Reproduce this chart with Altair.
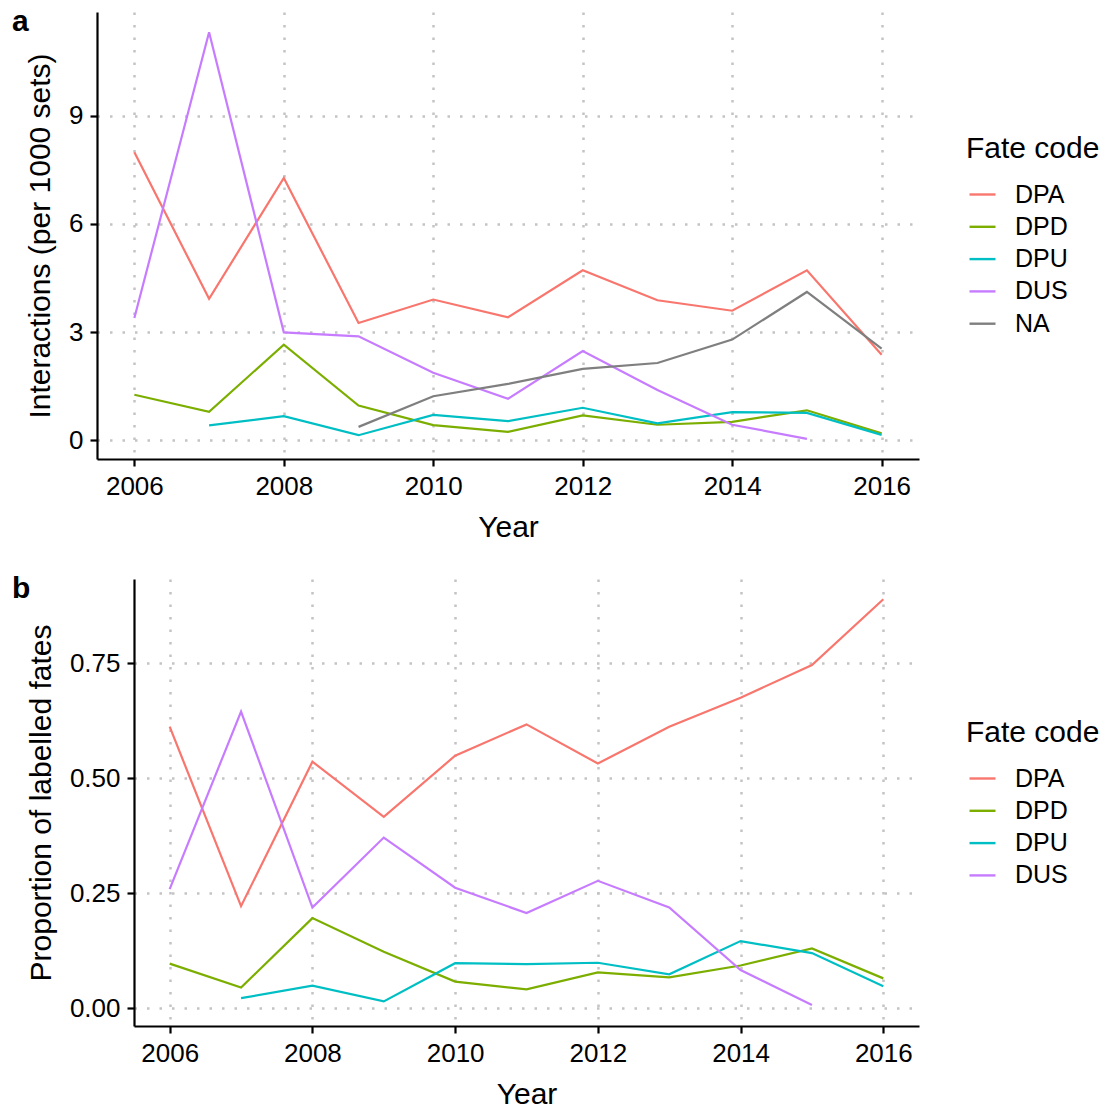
import altair as alt
import pandas as pd

# ---- data -------------------------------------------------------------
years = [2006, 2007, 2008, 2009, 2010, 2011, 2012, 2013, 2014, 2015, 2016]

# Panel a: interactions per 1000 sets
rate_dpa = [7.98, 3.92, 7.27, 3.25, 3.90, 3.41, 4.71, 3.88, 3.59, 4.71, 2.37]
rate_dpd = [1.26, 0.79, 2.65, 0.96, 0.42, 0.23, 0.69, 0.43, 0.51, 0.83, 0.19]
rate_dpu = [None, 0.41, 0.67, 0.14, 0.70, 0.53, 0.90, 0.47, 0.78, 0.76, 0.15]
rate_dus = [3.39, 11.31, 2.99, 2.88, 1.87, 1.15, 2.47, 1.39, 0.43, 0.04, None]
rate_na = [None, None, None, 0.37, 1.22, 1.56, 1.98, 2.14, 2.79, 4.11, 2.54]

# Panel b: proportion of labelled fates
prop_dpa = [0.612, 0.222, 0.536, 0.416, 0.549, 0.617, 0.532, 0.612, 0.675, 0.746, 0.889]
prop_dpd = [0.097, 0.045, 0.196, 0.123, 0.058, 0.041, 0.078, 0.067, 0.093, 0.130, 0.065]
prop_dpu = [None, 0.022, 0.049, 0.015, 0.098, 0.096, 0.099, 0.074, 0.146, 0.120, 0.048]
prop_dus = [0.259, 0.645, 0.219, 0.371, 0.262, 0.207, 0.277, 0.219, 0.083, 0.007, None]

codes_a = ["DPA", "DPD", "DPU", "DUS", "NA"]
colors_a = ["#F8766D", "#7CAE00", "#00BFC4", "#C77CFF", "#7F7F7F"]
codes_b = ["DPA", "DPD", "DPU", "DUS"]
colors_b = ["#F8766D", "#7CAE00", "#00BFC4", "#C77CFF"]

x_ticks = [2006, 2008, 2010, 2012, 2014, 2016]
y_ticks_a = [0, 3, 6, 9]
y_ticks_b = [0, 0.25, 0.5, 0.75]


def long_table(codes, series):
    rows = []
    for code, vals in zip(codes, series):
        for yr, v in zip(years, vals):
            if v is not None:
                rows.append({"Year": yr, "code": code, "value": v})
    return pd.DataFrame(rows)


df_a = long_table(codes_a, [rate_dpa, rate_dpd, rate_dpu, rate_dus, rate_na])
df_b = long_table(codes_b, [prop_dpa, prop_dpd, prop_dpu, prop_dus])

FONT = "Liberation Sans"
GRID = dict(grid=True, gridColor="#C4C4C4", gridDash=[2.5, 10], gridWidth=2.5)
PANEL_W = 822


def panel(df, codes, colors, ytitle, ydomain, yticks, yfmt, inset,
          letter, legend_y):
    # `inset` shifts the panel's left axis inward so that a panel with
    # wider tick labels keeps its y axis to the right of the other one.
    lines = alt.Chart(df).mark_line(strokeWidth=2.2).encode(
        x=alt.X(
            "Year:Q",
            scale=alt.Scale(domain=[2005.5, 2016.5], nice=False, zero=False,
                            range=[inset, PANEL_W]),
            axis=alt.Axis(values=x_ticks, format="d", title="Year", **GRID),
        ),
        y=alt.Y(
            "value:Q",
            scale=alt.Scale(domain=ydomain, nice=False, zero=False),
            axis=alt.Axis(values=yticks, format=yfmt, title=ytitle,
                          offset=-inset, **GRID),
        ),
        color=alt.Color(
            "code:N",
            scale=alt.Scale(domain=codes, range=colors),
            legend=alt.Legend(
                title="Fate code",
                orient="none",
                legendX=869,
                legendY=legend_y,
                symbolType="stroke",
                symbolSize=676,
                symbolStrokeWidth=2.4,
                symbolOffset=2,
                labelOffset=18,
                rowPadding=4.3,
                titlePadding=16,
                padding=0,
            ),
        ),
        detail="code:N",
    )
    tag = alt.Chart(alt.Data(values=[{"t": letter}])).mark_text(
        align="left", baseline="alphabetic", fontSize=30, fontWeight="bold",
        font=FONT, color="black",
    ).encode(x=alt.value(-85), y=alt.value(18.5), text="t:N")
    return alt.layer(lines, tag).properties(width=PANEL_W, height=447)


panel_a = panel(df_a, codes_a, colors_a, "Interactions (per 1000 sets)",
                [-0.52, 11.87], y_ticks_a, "d", 0, "a", 122)
panel_b = panel(df_b, codes_b, colors_b, "Proportion of labelled fates",
                [-0.0385, 0.933], y_ticks_b, ".2f", 37, "b", 139)

chart = alt.vconcat(panel_a, panel_b, spacing=31).resolve_scale(
    color="independent", x="independent", y="independent"
).properties(
    padding={"left": 12, "top": 6, "right": 0, "bottom": 0},
).configure(
    font=FONT,
).configure_view(
    stroke=None,
).configure_axis(
    domainColor="black", domainWidth=2.2,
    tickColor="black", tickWidth=2.2, tickSize=7,
    labelColor="black", labelFontSize=26, labelPadding=7, labelFont=FONT,
    titleColor="black", titleFontSize=30, titleFontWeight="normal",
    titleFont=FONT, titlePadding=13,
).configure_legend(
    titleFontSize=30, titleFontWeight="normal", titleColor="black",
    labelFontSize=25, labelColor="black", titleFont=FONT, labelFont=FONT,
)

chart.save("out.html", embed_options={"renderer": "svg", "actions": False})
